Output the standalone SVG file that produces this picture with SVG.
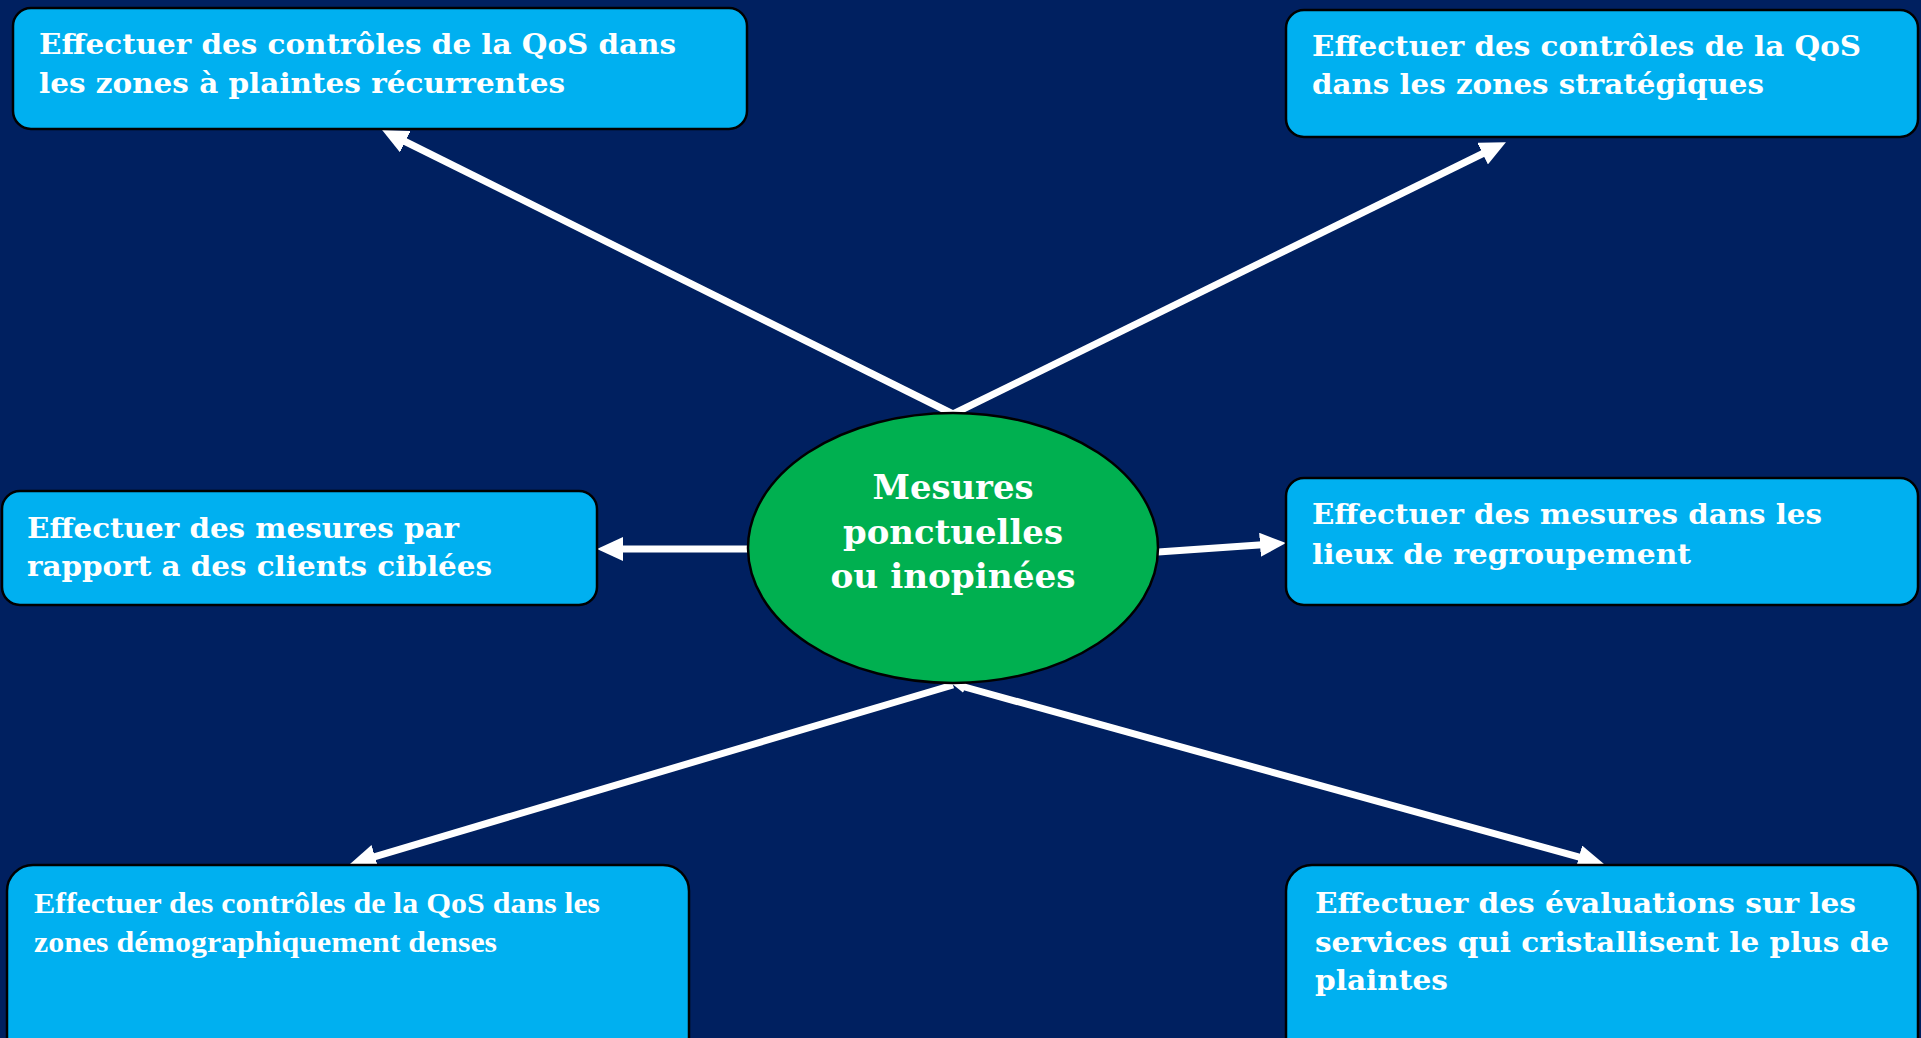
<svg xmlns="http://www.w3.org/2000/svg" width="1921" height="1038" viewBox="0 0 1921 1038">
<defs>
<style>
.box{fill:#00B0F0;stroke:#000;stroke-width:2.5}
.t{font-family:"DejaVu Serif","Liberation Serif",serif;font-weight:bold;font-size:27px;fill:#fff}
.t2{font-family:"Liberation Serif","Times New Roman",serif;font-weight:bold;font-size:29px;fill:#fff}
.tc{font-family:"DejaVu Serif","Liberation Serif",serif;font-weight:bold;font-size:33px;fill:#fff;text-anchor:middle}
.c{stroke:#fff;stroke-width:7;fill:none}
</style>
<marker id="ah" markerUnits="userSpaceOnUse" markerWidth="26" markerHeight="24" viewBox="0 0 26 24" refX="6" refY="12" orient="auto">
<path d="M0,0 L26,12 L0,24 z" fill="#fff"/>
</marker>
<marker id="ahs" markerUnits="userSpaceOnUse" markerWidth="14" markerHeight="12" viewBox="0 0 14 12" refX="4" refY="6" orient="auto-start-reverse">
<path d="M0,0 L14,6 L0,12 z" fill="#fff"/>
</marker>
</defs>
<rect width="1921" height="1038" fill="#002060"/>
<g id="connectors">
<line class="c" x1="953" y1="414" x2="400" y2="139" marker-end="url(#ah)"/>
<line class="c" x1="953" y1="414" x2="1488" y2="151" marker-end="url(#ah)"/>
<line class="c" x1="748" y1="549" x2="617" y2="549" marker-end="url(#ah)"/>
<line class="c" x1="1158" y1="552" x2="1266" y2="544.4" marker-end="url(#ah)"/>
<line class="c" x1="953" y1="685" x2="369.2" y2="858.3" marker-end="url(#ah)"/>
<line class="c" x1="961" y1="686" x2="1584.7" y2="858.7" marker-start="url(#ahs)" marker-end="url(#ah)"/>
</g>
<g id="center">
<ellipse cx="953" cy="548" rx="205" ry="135" fill="#00B050" stroke="#000" stroke-width="2.5"/>
<text class="tc" x="953" y="499" textLength="161" lengthAdjust="spacingAndGlyphs">Mesures</text>
<text class="tc" x="953" y="544" textLength="220" lengthAdjust="spacingAndGlyphs">ponctuelles</text>
<text class="tc" x="953" y="588" textLength="245" lengthAdjust="spacingAndGlyphs">ou inopinées</text>
</g>
<g id="node-tl">
<rect class="box" x="13" y="8" width="734" height="121" rx="18"/>
<text class="t" x="39" y="54" textLength="637" lengthAdjust="spacingAndGlyphs">Effectuer des contrôles de la QoS dans</text>
<text class="t" x="39" y="93" textLength="526" lengthAdjust="spacingAndGlyphs">les zones à plaintes récurrentes</text>
</g>
<g id="node-tr">
<rect class="box" x="1286" y="10" width="632" height="127" rx="18"/>
<text class="t" x="1312" y="56" textLength="549" lengthAdjust="spacingAndGlyphs">Effectuer des contrôles de la QoS</text>
<text class="t" x="1312" y="94" textLength="452" lengthAdjust="spacingAndGlyphs">dans les zones stratégiques</text>
</g>
<g id="node-ml">
<rect class="box" x="2" y="491" width="595" height="114" rx="18"/>
<text class="t" x="27" y="538" textLength="432" lengthAdjust="spacingAndGlyphs">Effectuer des mesures par</text>
<text class="t" x="27" y="576" textLength="465" lengthAdjust="spacingAndGlyphs">rapport a des clients ciblées</text>
</g>
<g id="node-mr">
<rect class="box" x="1286" y="478" width="632" height="127" rx="18"/>
<text class="t" x="1312" y="524" textLength="510" lengthAdjust="spacingAndGlyphs">Effectuer des mesures dans les</text>
<text class="t" x="1312" y="564" textLength="379" lengthAdjust="spacingAndGlyphs">lieux de regroupement</text>
</g>
<g id="node-bl">
<rect class="box" x="7" y="865" width="682" height="200" rx="26"/>
<text class="t2" x="34" y="913" textLength="566" lengthAdjust="spacingAndGlyphs">Effectuer des contrôles de la QoS dans les</text>
<text class="t2" x="34" y="952" textLength="463" lengthAdjust="spacingAndGlyphs">zones démographiquement denses</text>
</g>
<g id="node-br">
<rect class="box" x="1286" y="865" width="632" height="200" rx="26"/>
<text class="t" x="1315" y="913" textLength="541" lengthAdjust="spacingAndGlyphs">Effectuer des évaluations sur les</text>
<text class="t" x="1315" y="952" textLength="574" lengthAdjust="spacingAndGlyphs">services qui cristallisent le plus de</text>
<text class="t" x="1315" y="990" textLength="133" lengthAdjust="spacingAndGlyphs">plaintes</text>
</g>
</svg>
